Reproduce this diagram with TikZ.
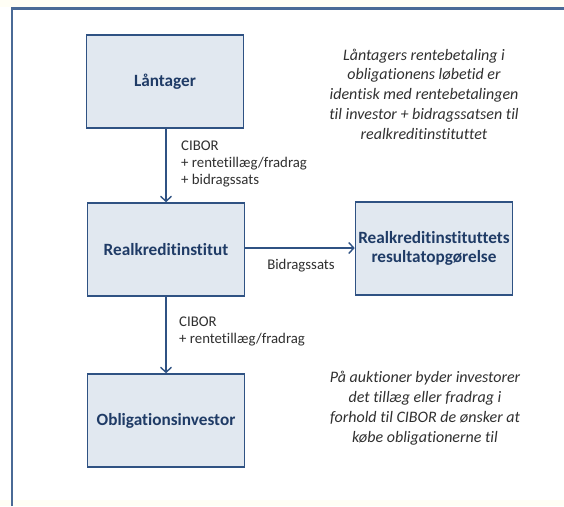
\documentclass[tikz,border=0pt]{standalone}
\usepackage{fontspec}
\setmainfont[Ligatures=NoCommon]{Carlito}
\usetikzlibrary{arrows.meta}
\definecolor{frameblue}{HTML}{4A6A96}
\definecolor{boxborder}{HTML}{2F5283}
\definecolor{boxfill}{HTML}{E1E8F0}
\definecolor{boxtext}{HTML}{1F3B66}
\definecolor{txt}{HTML}{303030}
\tikzset{
  flowbox/.style={draw=boxborder, fill=boxfill, line width=1.6pt, minimum width=157pt, minimum height=93pt, inner sep=0pt, text=boxtext, font=\fontsize{17.2}{19}\selectfont\bfseries, align=center},
  flowarrow/.style={draw=boxborder, line width=1.4pt, -{Straight Barb[length=5pt,width=11pt,line width=1.4pt]}},
  edgelabel/.style={text=txt, font=\fontsize{14.8}{16.8}\selectfont, align=left, inner sep=0pt, anchor=north west},
  note/.style={text=txt, font=\fontsize{16}{19.8}\selectfont\itshape, align=center, inner sep=0pt}
}
\begin{document}
\begin{tikzpicture}[x=1pt,y=-1pt]
\useasboundingbox (0,0) rectangle (564,506);
\fill[white] (0,0) rectangle (564,506);
\fill[yellow!4] (0,0) rectangle (564,7);
\fill[yellow!4] (0,500) rectangle (564,506);
\draw[frameblue, line width=2.6pt] (12,506) -- (12,8.5) -- (564,8.5);

\node[flowbox] (laan) at (165,81.5) {Låntager};
\node[flowbox] (real) at (166,249.5) {Realkreditinstitut};
\node[flowbox] (obl) at (166,420.5) {Obligationsinvestor};
\node[flowbox] (res) at (434,248.5) {Realkreditinstituttets\\resultatopgørelse};

\draw[flowarrow] (laan.south -| 166,0) -- (real.north -| 166,0);
\draw[flowarrow] (real.south -| 166,0) -- (obl.north -| 166,0);
\draw[flowarrow] (real.east |- 0,248) -- (res.west |- 0,248);

\node[edgelabel] (l1) at (181,141) {CIBOR\\+ rentetillæg/fradrag\\+ bidragssats};
\node[edgelabel] (l2) at (179,317) {CIBOR\\+ rentetillæg/fradrag};
\node[edgelabel, anchor=center] (l3) at (301,266) {Bidragssats};

\node[note] (n1) at (424,94) {Låntagers rentebetaling i\\obligationens løbetid er\\identisk med rentebetalingen\\til investor + bidragssatsen til\\realkreditinstituttet};
\node[note] (n2) at (425,408) {På auktioner byder investorer\\det tillæg eller fradrag i\\forhold til CIBOR de ønsker at\\købe obligationerne til};
\end{tikzpicture}
\end{document}
